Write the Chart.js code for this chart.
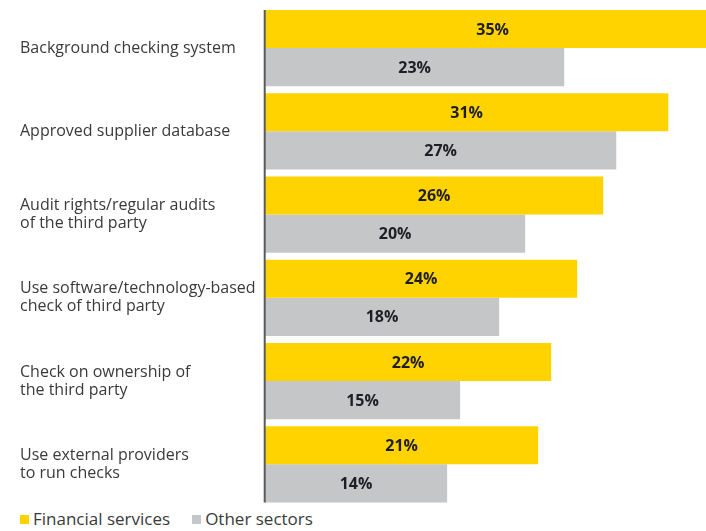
<!DOCTYPE html>
<html>
<head>
<meta charset="utf-8">
<script src="https://cdn.jsdelivr.net/npm/chart.js@4"></script>
<style>
  html, body { margin: 0; padding: 0; background: #fff; overflow: hidden; }
  #wrap { position: absolute; left: 0; top: 0; width: 706px; height: 506px; }
  #legend { position: absolute; left: 20px; top: 507px; font-family: "Open Sans", sans-serif; font-size: 17px; line-height: 24px; color: #3a3a3a; white-space: nowrap; }
  .item { display: inline-block; margin-right: 22px; }
  .sw { display: inline-block; width: 9px; height: 9px; margin-right: 4px; vertical-align: 1px; }
</style>
</head>
<body>
<div id="wrap"><canvas id="c"></canvas></div>
<div id="legend"></div>
<script>
const categories = [
  ["Background checking system"],
  ["Approved supplier database"],
  ["Audit rights/regular audits", "of the third party"],
  ["Use software/technology-based", "check of third party"],
  ["Check on ownership of", "the third party"],
  ["Use external providers", "to run checks"]
];
const seriesNames = ["Financial services", "Other sectors"];
const financialServices = [35, 31, 26, 24, 22, 21];
const otherSectors = [23, 27, 20, 18, 15, 14];
const colors = ["#FFD300", "#C5C6C8"];

const fontFamily = '"Open Sans", sans-serif';

const axisLine = {
  id: 'axisLine',
  afterDatasetsDraw(chart) {
    const m0 = chart.getDatasetMeta(0).data[0];
    const d1 = chart.getDatasetMeta(1).data;
    const mLast = d1[d1.length - 1];
    const top = m0.y - m0.height / 2;
    const bottom = mLast.y + mLast.height / 2;
    const x = chart.chartArea.left - 0.3;
    const ctx = chart.ctx;
    ctx.save();
    ctx.strokeStyle = '#5a5a5a';
    ctx.lineWidth = 2;
    ctx.beginPath();
    ctx.moveTo(x, top);
    ctx.lineTo(x, bottom);
    ctx.stroke();
    ctx.restore();
  }
};

const valueLabels = {
  id: 'valueLabels',
  afterDatasetsDraw(chart) {
    const ctx = chart.ctx;
    ctx.save();
    ctx.font = 'bold 16px ' + fontFamily;
    ctx.fillStyle = '#1e1e24';
    ctx.textAlign = 'center';
    ctx.textBaseline = 'middle';
    chart.data.datasets.forEach((ds, i) => {
      chart.getDatasetMeta(i).data.forEach((el, j) => {
        const cx = (el.x + el.base) / 2;
        ctx.fillText(ds.data[j] + '%', cx, el.y + 1);
      });
    });
    ctx.restore();
  }
};

new Chart(document.getElementById('c'), {
  type: 'bar',
  data: {
    labels: categories,
    datasets: [
      { label: seriesNames[0], data: financialServices, backgroundColor: colors[0] },
      { label: seriesNames[1], data: otherSectors, backgroundColor: colors[1] }
    ]
  },
  options: {
    indexAxis: 'y',
    responsive: true,
    maintainAspectRatio: false,
    animation: false,
    layout: { padding: { left: 20, top: 6.4, right: 0, bottom: 0 } },
    datasets: { bar: { barPercentage: 1.0, categoryPercentage: 0.915, borderWidth: 0 } },
    scales: {
      x: { display: false, min: 0, max: 33.9 },
      y: {
        grid: { display: false },
        border: { display: false },
        ticks: {
          crossAlign: 'far',
          color: '#3a3a3a',
          font: { family: fontFamily, size: 16, lineHeight: 1.125 }
        },
        afterFit(scale) {
          scale.width = 245;
          scale.paddingTop = 0;
          scale.paddingBottom = 0;
        }
      }
    },
    plugins: {
      legend: { display: false },
      tooltip: { enabled: false }
    }
  },
  plugins: [axisLine, valueLabels]
});

const legend = document.getElementById('legend');
seriesNames.forEach((n, i) => {
  const s = document.createElement('span');
  s.className = 'item';
  s.innerHTML = '<span class="sw" style="background:' + colors[i] + '"></span>' + n;
  legend.appendChild(s);
});
</script>
</body>
</html>
